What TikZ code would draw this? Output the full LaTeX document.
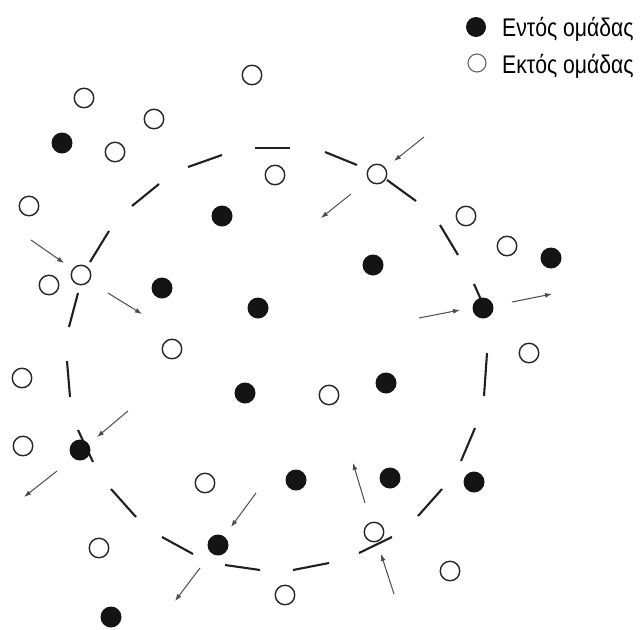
\documentclass[tikz,border=0pt]{standalone}
\usepackage{fontspec}
\setmainfont{Liberation Sans}
\usetikzlibrary{arrows.meta}
\begin{document}
\begin{tikzpicture}[x=1pt,y=-1pt,
  inn/.style={circle,fill=black!92,draw=none,minimum size=21pt,inner sep=0pt},
  outn/.style={circle,draw=black!85,line width=1.4pt,fill=white,minimum size=19.5pt,inner sep=0pt},
  bnd/.style={line width=2.1pt,black!88},
  mv/.style={line width=1pt,black!70,-{Latex[length=7pt,width=5pt]}},
  lbl/.style={font=\fontsize{25.5}{28}\selectfont,anchor=base west,inner sep=0pt}]
\useasboundingbox (0,0) rectangle (644,629);
% group boundary (dashed circle)
\draw[bnd] (255,148)--(290,148);
\draw[bnd] (188,167)--(222,155);
\draw[bnd] (132,206)--(159,184);
\draw[bnd] (90,262)--(109,231);
\draw[bnd] (78,293)--(69,327);
\draw[bnd] (67,361)--(70,397);
\draw[bnd] (78,430)--(93,462);
\draw[bnd] (111,489)--(136,517);
\draw[bnd] (162,537)--(193,554);
\draw[bnd] (225,565)--(260,570);
\draw[bnd] (293,570)--(329,563);
\draw[bnd] (359,553)--(392,537);
\draw[bnd] (418,516)--(442,489);
\draw[bnd] (461,461)--(475,428);
\draw[bnd] (484,396)--(487,353);
\draw[bnd] (474,284)--(482,302);
\draw[bnd] (440,225)--(458,255);
\draw[bnd] (387,180)--(416,201);
\draw[bnd] (325,152)--(357,165);
% members (inside group)
\node[inn] (i1) at (62,143) {};
\node[inn] (i2) at (222,216) {};
\node[inn] (i3) at (162,288) {};
\node[inn] (i4) at (258,308) {};
\node[inn] (i5) at (373,265) {};
\node[inn] (i6) at (551,258) {};
\node[inn] (i7) at (483,308) {};
\node[inn] (i8) at (245,393) {};
\node[inn] (i9) at (386,383) {};
\node[inn] (i10) at (80,450) {};
\node[inn] (i11) at (296,480) {};
\node[inn] (i12) at (390,478) {};
\node[inn] (i13) at (474,482) {};
\node[inn] (i14) at (218,545) {};
\node[inn] (i15) at (111,617) {};
% non-members (outside group)
\node[outn] (o1) at (252,75) {};
\node[outn] (o2) at (84,98) {};
\node[outn] (o3) at (154,119) {};
\node[outn] (o4) at (115,152) {};
\node[outn] (o5) at (275,175) {};
\node[outn] (o6) at (29,206) {};
\node[outn] (o7) at (81,275) {};
\node[outn] (o8) at (49,285) {};
\node[outn] (o9) at (377,174) {};
\node[outn] (o10) at (466,216) {};
\node[outn] (o11) at (507,246) {};
\node[outn] (o12) at (172,349) {};
\node[outn] (o13) at (529,353) {};
\node[outn] (o14) at (22,378) {};
\node[outn] (o15) at (329,395) {};
\node[outn] (o16) at (23,446) {};
\node[outn] (o17) at (205,483) {};
\node[outn] (o18) at (374,532) {};
\node[outn] (o19) at (99,548) {};
\node[outn] (o20) at (285,595) {};
\node[outn] (o21) at (450,571) {};
% movement arrows
\coordinate (a1s) at (31,240);  \coordinate (a1e) at (64,263);
\coordinate (a2s) at (108,293); \coordinate (a2e) at (142,314);
\coordinate (a3s) at (424,137); \coordinate (a3e) at (394,161);
\coordinate (a4s) at (351,194); \coordinate (a4e) at (321,218);
\coordinate (a5s) at (419,318); \coordinate (a5e) at (460,310);
\coordinate (a6s) at (512,302); \coordinate (a6e) at (552,294);
\coordinate (a7s) at (128,411); \coordinate (a7e) at (97,437);
\coordinate (a8s) at (57,471);  \coordinate (a8e) at (24,497);
\coordinate (a9s) at (256,493); \coordinate (a9e) at (231,527);
\coordinate (a10s) at (200,568); \coordinate (a10e) at (175,601);
\coordinate (a11s) at (365,503); \coordinate (a11e) at (353,463);
\coordinate (a12s) at (394,594); \coordinate (a12e) at (381,554);
\foreach \k in {1,...,12} {\draw[mv] (a\k s) -- (a\k e);}
% legend
\node[inn,minimum size=20pt] (l1) at (476,27) {};
\node[outn,draw=black!60,line width=1.1pt,minimum size=18pt] (l2) at (477,63) {};
\node[lbl] (t1) at (502,36) {\scalebox{0.83}[1]{Εντός ομάδας}};
\node[lbl] (t2) at (502,73) {\scalebox{0.83}[1]{Εκτός ομάδας}};
\end{tikzpicture}
\end{document}
